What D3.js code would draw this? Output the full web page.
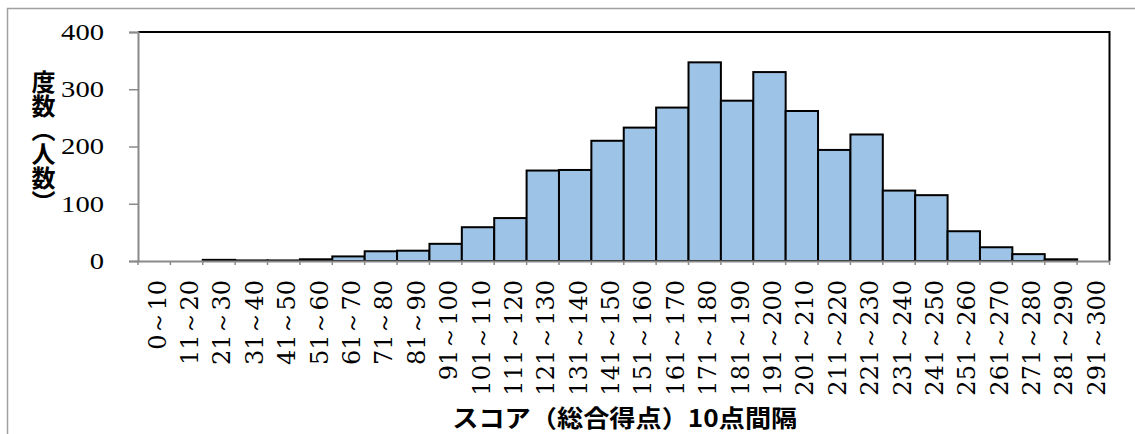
<!DOCTYPE html>
<html><head><meta charset="utf-8">
<script src="https://cdn.jsdelivr.net/npm/d3@7"></script>
<style>
html,body{margin:0;padding:0;background:#fff;}
svg{display:block;}
</style></head>
<body>
<svg id="chart" width="1135" height="434"></svg>
<script>
const categories = ["0～10","11～20","21～30","31～40","41～50","51～60","61～70","71～80","81～90","91～100",
  "101～110","111～120","121～130","131～140","141～150","151～160","161～170","171～180","181～190","191～200",
  "201～210","211～220","221～230","231～240","241～250","251～260","261～270","271～280","281～290","291～300"];
const counts = [0,0,2,1,1,3,8,17,18,30,59,75,158,159,210,233,268,347,280,330,262,194,221,123,115,52,24,12,3,0];
const yTicks = [0,100,200,300,400];
const yTitle = "度数（人数）";
const xTitle = "スコア（総合得点）10点間隔";

const svg = d3.select("#chart");
const pLeft = 138, pRight = 1109.5, pTop = 32, pBottom = 261;

// outer frame
svg.append("rect").attr("x",7.5).attr("y",8.5).attr("width",1140).attr("height",440)
  .attr("fill","none").attr("stroke","#a0a0a0").attr("stroke-width",1.5);

const x = d3.scaleBand().domain(categories).range([pLeft,pRight]).padding(0);
const y = d3.scaleLinear().domain([0,400]).range([pBottom,pTop]);

// plot frame top/right
svg.append("path").attr("d",`M${pLeft},${pTop}H${pRight}V${pBottom}`)
  .attr("fill","none").attr("stroke","#000").attr("stroke-width",2);

// bars
svg.append("g").selectAll("rect").data(counts.map((v,i)=>({c:categories[i],v})).filter(d=>d.v>0))
  .join("rect")
  .attr("x",d=>x(d.c)).attr("y",d=>y(d.v))
  .attr("width",x.bandwidth()).attr("height",d=>pBottom-y(d.v))
  .attr("fill","#9dc3e6").attr("stroke","#000").attr("stroke-width",2);

// y axis
const ya = svg.append("g").attr("transform",`translate(${pLeft},0)`)
  .call(d3.axisLeft(y).tickValues(yTicks).tickSize(9).tickPadding(25).tickFormat(d3.format("d")));
ya.select(".domain").attr("stroke","#8a8a8a").attr("stroke-width",2);
ya.selectAll(".tick line").attr("stroke","#8a8a8a").attr("stroke-width",1.5);
ya.selectAll(".tick text").style("font-family","'Liberation Serif','DejaVu Serif',serif").style("font-size","23px").attr("fill","#000")
  .attr("textLength",d=>String(d).length*14.3).attr("lengthAdjust","spacingAndGlyphs");

// x axis baseline with boundary ticks
const xa = svg.append("g").attr("transform",`translate(0,${pBottom})`)
  .call(d3.axisBottom(x).tickSize(0).tickFormat(""));
xa.select(".domain").attr("stroke","#8a8a8a").attr("stroke-width",2);
xa.selectAll(".tick").remove();
xa.selectAll("line.b").data(categories.concat(["_end"]))
  .join("line").attr("class","b")
  .attr("x1",(d,i)=>i<categories.length?x(d):pRight).attr("x2",(d,i)=>i<categories.length?x(d):pRight)
  .attr("y1",0).attr("y2",4).attr("stroke","#8a8a8a").attr("stroke-width",1.5);

// rotated category labels
svg.append("g").selectAll("text").data(categories).join("text")
  .style("font-family","'DejaVu Serif','Liberation Serif',serif").style("font-size","24px")
  .attr("transform",d=>`translate(${x(d)+x.bandwidth()/2+11.5},280) rotate(-90)`)
  .attr("text-anchor","end")
  .attr("fill","#000")
  .text(d=>d);

// y title (vertical writing)
svg.append("text").attr("x",43.5).attr("y",70)
  .style("writing-mode","vertical-rl").style("text-orientation","mixed")
  .style("font-family","'Noto Sans CJK JP'").style("font-weight","700").style("font-size","24px").attr("fill","#000")
  .text(yTitle);

// x title
svg.append("text").attr("x",(pLeft+pRight)/2+1).attr("y",427)
  .attr("text-anchor","middle")
  .style("font-family","'Noto Sans CJK JP'").style("font-weight","700").style("font-size","24px").attr("fill","#000")
  .attr("textLength",345).attr("lengthAdjust","spacingAndGlyphs")
  .text(xTitle);
</script>
</body></html>
